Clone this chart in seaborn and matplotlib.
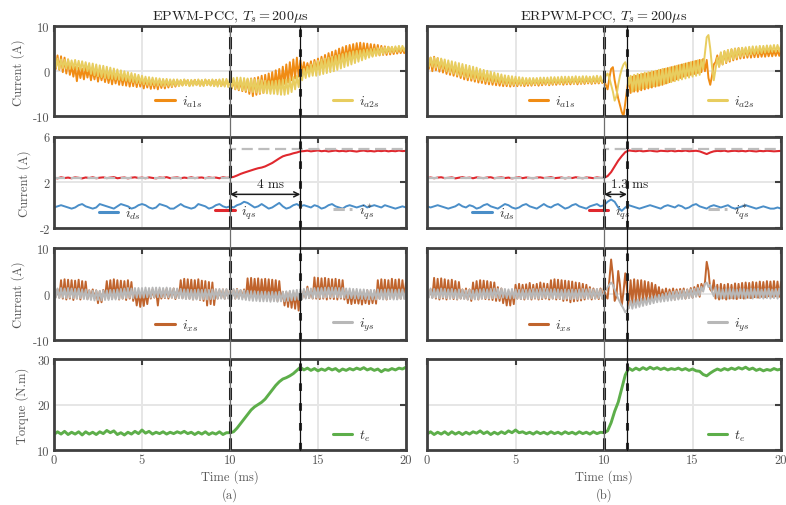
import numpy as np
import matplotlib
matplotlib.use('Agg')
import matplotlib.pyplot as plt
import seaborn as sns
from matplotlib.lines import Line2D
from matplotlib.legend import Legend
from matplotlib.transforms import blended_transform_factory

# ── Sample times ─────────────────────────────────────────────────────────────
T = np.linspace(0, 20, 101)     # 0.2 ms, slow signals
T2 = np.linspace(0, 20, 201)    # 0.1 ms, switching ripple signals

# ── (a) EPWM-PCC ─────────────────────────────────────────────────────────────
ia1s_a = [2.0, 0.5, 3.5, 0.3, 3.3, -0.2, 3.0, -0.5, 2.6, -0.8,
          1.2, -1.2, 1.0, -2.2, 0.8, -1.5, 0.6, -1.8, 0.8, -1.4,
          0.5, -2.0, 0.3, -1.8, 0.4, -2.3, 0.1, -2.0, -0.1, -2.4,
          -0.3, -2.6, -0.4, -2.9, -0.5, -2.7, -0.6, -3.0, -0.7, -3.1,
          -0.8, -3.2, -0.9, -3.4, -1.0, -3.3, -1.1, -3.5, -1.3, -3.4,
          -1.5, -3.8, -1.6, -3.6, -1.7, -3.9, -1.8, -3.8, -1.9, -4.0,
          -2.0, -3.7, -1.9, -3.8, -2.0, -3.6, -2.1, -3.5, -2.0, -3.4,
          -2.0, -3.2, -2.1, -3.1, -1.9, -3.0, -2.0, -3.2, -2.1, -3.1,
          -1.9, -3.0, -2.0, -3.2, -2.1, -3.1, -1.9, -3.0, -2.0, -3.1,
          -2.0, -3.2, -1.9, -3.1, -2.0, -3.3, -2.1, -3.2, -2.0, -3.2,
          -2.2, -3.8, -2.0, -4.0, -2.3, -4.2, -2.1, -4.4, -2.0, -4.6,
          -1.8, -5.0, -1.6, -5.5, -1.5, -5.2, -1.3, -5.0, -1.0, -4.8,
          -0.8, -4.3, -0.5, -4.0, -0.2, -3.8, 0.2, -3.5, 0.5, -3.2,
          1.0, -2.8, 1.5, -2.5, 2.0, -2.0, 2.6, -1.6, 3.0, -1.2,
          2.4, -0.5, 2.0, -0.3, 1.8, 0.0, 2.2, -0.2, 2.5, 0.2,
          2.8, 0.4, 3.2, 0.6, 3.6, 0.9, 4.0, 1.2, 4.3, 1.5,
          4.6, 1.8, 5.0, 2.1, 5.3, 2.4, 5.6, 2.7, 5.8, 2.9,
          6.0, 3.0, 6.2, 3.1, 6.3, 3.2, 6.2, 3.3, 6.1, 3.3,
          6.0, 3.4, 5.9, 3.5, 5.8, 3.5, 5.6, 3.6, 5.5, 3.6,
          5.4, 3.7, 5.3, 3.8, 5.2, 3.9, 5.1, 4.0, 5.0, 4.0,
          4.9]
ia2s_a = [2.0, 0.8, 2.8, 0.5, 2.6, 0.7, 2.5, 0.6, 2.6, 0.5,
          2.4, 0.6, 2.5, 0.4, 2.3, 0.3, 2.2, 0.2, 2.0, 0.0,
          1.8, -0.6, 1.7, -0.9, 1.5, -1.1, 1.3, -1.3, 1.2, -1.5,
          1.0, -1.6, 0.8, -1.7, 0.6, -1.8, 0.4, -1.9, 0.2, -2.0,
          0.0, -2.1, -0.2, -2.3, -0.4, -2.4, -0.6, -2.6, -0.8, -2.7,
          -1.0, -2.9, -1.2, -3.0, -1.3, -3.1, -1.4, -3.1, -1.5, -3.2,
          -1.6, -3.2, -1.7, -3.3, -1.7, -3.2, -1.8, -3.3, -1.8, -3.2,
          -1.8, -3.3, -1.9, -3.2, -1.8, -3.1, -1.9, -3.3, -1.9, -3.2,
          -1.9, -3.1, -1.8, -3.2, -1.9, -3.3, -1.8, -3.1, -1.9, -3.2,
          -1.8, -3.3, -1.9, -3.4, -1.8, -3.3, -1.7, -3.4, -1.7, -3.5,
          -1.6, -3.7, -1.5, -3.9, -1.4, -4.0, -1.4, -4.2, -1.5, -4.3,
          -1.6, -4.4, -1.7, -4.6, -1.8, -4.7, -1.9, -4.8, -2.0, -4.8,
          -2.1, -4.9, -2.2, -5.0, -2.2, -5.0, -2.1, -5.1, -2.0, -5.2,
          -1.9, -5.2, -1.8, -5.0, -1.6, -4.6, -1.3, -4.0, -1.0, -3.5,
          -0.5, -2.0, 0.5, -1.5, 1.0, -1.2, 1.5, -1.0, 2.0, -1.0,
          2.3, -0.8, 2.6, -0.6, 2.8, -0.4, 3.0, -0.2, 3.2, 0.0,
          3.4, 0.3, 3.6, 0.6, 3.8, 0.9, 4.0, 1.2, 4.2, 1.5,
          4.4, 1.8, 4.5, 2.1, 4.6, 2.4, 4.7, 2.7, 4.8, 3.0,
          4.9, 3.2, 5.0, 3.4, 5.1, 3.6, 5.2, 3.8, 5.3, 4.0,
          5.4, 4.1, 5.4, 4.2, 5.5, 4.3, 5.6, 4.4, 5.6, 4.5,
          5.5]
ids_a = [-0.2, -0.1, 0.0, -0.1, -0.2, -0.3, -0.2, 0.0, 0.1, -0.1,
         -0.2, -0.3, -0.2, 0.1, 0.0, -0.1, -0.2, -0.3, -0.1, 0.1,
         0.0, -0.1, -0.3, -0.2, 0.0, 0.1, 0.0, -0.2, -0.3, -0.2,
         0.1, 0.0, -0.1, -0.3, -0.3, -0.1, 0.1, -0.1, -0.2, -0.3,
         -0.2, 0.1, 0.0, -0.1, -0.3, -0.2, 0.0, 0.1, -0.1, -0.2,
         -0.1, -0.2, 0.0, 0.1, 0.3, 0.2, 0.0, -0.2, -0.1, 0.1,
         -0.1, -0.3, -0.2, 0.0, 0.2, -0.1, -0.3, -0.2, 0.0, 0.1,
         -0.1, 0.0, -0.1, -0.2, 0.0, -0.1, -0.3, -0.2, 0.0, 0.1,
         -0.1, -0.2, -0.3, -0.1, 0.0, -0.1, -0.2, -0.1, 0.0, -0.2,
         -0.1, 0.0, -0.1, -0.2, 0.0, -0.1, -0.2, -0.3, -0.2, -0.1,
         -0.2]
iqs_a = [2.40, 2.35, 2.45, 2.38, 2.42, 2.36, 2.44, 2.40, 2.35, 2.43,
         2.38, 2.45, 2.36, 2.41, 2.44, 2.37, 2.42, 2.46, 2.36, 2.40,
         2.43, 2.35, 2.41, 2.45, 2.38, 2.42, 2.36, 2.44, 2.39, 2.35,
         2.43, 2.40, 2.46, 2.37, 2.41, 2.44, 2.36, 2.42, 2.38, 2.45,
         2.37, 2.41, 2.43, 2.36, 2.44, 2.39, 2.42, 2.36, 2.45, 2.40,
         2.42,
         2.48, 2.60, 2.74, 2.85, 2.95, 3.05, 3.15, 3.24, 3.30, 3.40,
         3.55, 3.70, 3.90, 4.10, 4.28, 4.38, 4.45, 4.55, 4.62, 4.72,
         4.74, 4.78, 4.72, 4.76, 4.80, 4.73, 4.77, 4.71, 4.75, 4.79,
         4.73, 4.76, 4.72, 4.78, 4.74, 4.70, 4.76, 4.79, 4.73, 4.75,
         4.71, 4.77, 4.74, 4.78, 4.72, 4.76, 4.73, 4.79, 4.74, 4.76]
ixs_a = [0.8, -0.6, 1.0, -0.8, 3.0, -1.0, 3.2, -1.2, 3.1, -1.0,
         3.0, -1.3, 2.9, -1.0, 3.1, -1.2, 2.8, -0.9, 2.7, -1.1,
         0.8, -0.8, 1.0, -1.0, 0.8, -2.0, 0.6, -1.8, 0.9, -0.8,
         2.8, -1.0, 3.0, -1.1, 3.2, -0.9, 3.0, -1.2, 2.9, -1.0,
         2.8, -1.3, 3.0, -1.0, 2.6, -1.5, 0.5, -2.5, 0.4, -2.8,
         0.3, -2.6, 0.5, -2.2, 0.8, -1.0, 1.0, -0.8, 0.8, -2.5,
         1.0, -1.0, 0.9, -0.9, 1.1, -1.0, 0.8, -0.8, 1.2, -1.1,
         1.0, -0.8, 3.0, -0.9, 3.3, -1.0, 3.2, -1.0, 3.1, -1.2,
         3.0, -1.0, 3.2, -1.3, 2.9, -1.5, 2.8, -2.5, 2.6, -2.2,
         2.5, -2.4, 1.0, -1.0, 0.8, -0.8, 1.0, -1.0, 0.9, -0.9,
         1.0, -0.8, 0.9, -1.0, 1.1, -0.9, 0.8, -0.8, 1.0, -1.0,
         3.4, -0.8, 3.5, -1.0, 3.3, -0.9, 3.4, -1.2, 3.2, -1.0,
         3.3, -1.1, 3.2, -1.3, 3.1, -1.2, 3.0, -1.5, 2.8, -1.4,
         0.5, -2.5, 0.4, -2.8, 0.5, -3.0, 0.3, -3.2, 0.4, -3.6,
         0.3, -1.0, 0.8, -0.8, 1.6, -0.9, 0.8, -1.0, 3.6, -1.0,
         3.5, -1.1, 3.4, -1.0, 3.5, -1.2, 3.3, -1.0, 3.2, -1.1,
         3.3, -1.2, 3.1, -1.0, 3.0, -1.2, 0.8, -2.0, 0.6, -2.2,
         0.7, -2.0, 0.5, -2.1, 0.6, -2.3, 0.5, -2.0, 0.8, -2.2,
         0.6, -2.0, 0.7, -2.1, 3.0, -1.0, 3.2, -1.1, 3.1, -1.2,
         3.0, -1.0, 3.3, -0.9, 3.1, -1.1, 3.2, -1.0, 3.0, -0.8,
         2.5]
iys_a = [1.3, -0.8, 1.2, -0.9, 1.3, -0.8, 1.2, -0.9, 1.3, -0.8,
         1.2, -0.9, 1.1, -1.0, 1.2, -0.9, 1.0, -1.1, 1.0, -1.2,
         0.8, -1.3, 0.7, -1.4, 0.8, -1.3, 0.7, -1.4, 0.8, -1.3,
         0.8, -1.3, 0.9, -1.2, 0.9, -1.2, 1.0, -1.1, 1.1, -1.0,
         1.2, -0.9, 1.3, -0.8, 1.2, -0.9, 1.3, -0.8, 1.3, -0.8,
         1.3, -0.8, 1.4, -0.7, 1.3, -0.8, 1.4, -0.7, 1.4, -0.7,
         1.4, -0.7, 1.3, -0.8, 1.4, -0.7, 1.3, -0.8, 1.2, -0.9,
         1.2, -0.9, 1.1, -1.0, 1.0, -1.1, 1.0, -1.1, 0.9, -1.2,
         0.9, -1.2, 1.0, -1.2, 0.9, -1.1, 1.0, -1.2, 0.9, -1.1,
         1.0, -1.1, 1.0, -1.0, 1.1, -1.0, 1.0, -1.1, 1.1, -1.0,
         1.0, -1.1, 1.1, -1.0, 1.0, -1.1, 0.9, -1.2, 0.8, -1.3,
         0.7, -1.4, 0.6, -1.5, 0.6, -1.5, 0.5, -1.6, 0.5, -1.6,
         0.5, -1.6, 0.4, -1.7, 0.5, -1.6, 0.4, -1.7, 0.5, -1.6,
         0.5, -1.6, 0.6, -1.5, 0.7, -1.4, 0.8, -1.3, 0.9, -1.2,
         1.0, -1.1, 1.1, -1.0, 1.2, -0.9, 1.2, -0.9, 1.3, -0.8,
         1.3, -0.8, 1.3, -0.8, 1.4, -0.7, 1.4, -0.7, 1.4, -0.7,
         1.4, -0.7, 1.3, -0.8, 1.3, -0.8, 1.2, -0.9, 1.2, -0.9,
         1.1, -1.0, 1.1, -1.0, 1.0, -1.1, 1.0, -1.1, 0.9, -1.2,
         0.9, -1.2, 0.9, -1.2, 1.0, -1.1, 0.9, -1.2, 1.0, -1.1,
         1.0, -1.1, 1.0, -1.2, 0.9, -1.2, 1.0, -1.1, 1.0, -1.1,
         0.9]
te_a = [13.4, 14.0, 13.5, 14.1, 13.4, 13.9, 13.5, 14.0, 13.3, 14.0,
        13.5, 13.9, 13.4, 14.0, 13.6, 14.3, 13.8, 14.2, 13.4, 13.8,
        13.3, 13.9, 13.5, 14.1, 13.6, 14.4, 13.7, 14.1, 13.5, 13.9,
        13.6, 14.0, 13.5, 13.9, 13.6, 14.0, 13.7, 14.1, 13.6, 13.9,
        13.4, 13.9, 13.5, 14.0, 13.4, 13.8, 13.5, 14.0, 13.4, 13.8,
        13.8,
        14.0, 14.8, 15.8, 16.8, 17.8, 18.8, 19.5, 20.0, 20.5, 21.2,
        22.2, 23.2, 24.2, 25.0, 25.6, 25.9, 26.3, 26.8, 27.5, 28.2,
        27.6, 28.0, 27.5, 27.9, 27.4, 27.8, 27.5, 28.0, 27.6, 27.9,
        27.3, 27.8, 27.5, 27.9, 27.6, 28.0, 27.7, 28.1, 27.6, 27.9,
        27.5, 27.8, 27.2, 27.7, 27.5, 27.9, 27.6, 28.0, 27.8, 28.2]

# ── (b) ERPWM-PCC ────────────────────────────────────────────────────────────
ia1s_b = [2.0, 0.5, 3.0, 0.0, 3.2, 0.2, 2.9, -0.1, 2.6, -0.3,
          2.0, -0.6, 1.8, -0.8, 1.5, -1.0, 1.3, -1.2, 1.0, -1.5,
          0.8, -1.8, 0.6, -2.0, 0.4, -2.1, 0.2, -2.3, 0.0, -2.5,
          -0.2, -2.6, -0.4, -2.8, -0.6, -2.9, -0.8, -3.0, -1.0, -3.1,
          -1.2, -3.2, -1.3, -3.3, -1.4, -3.3, -1.5, -3.4, -1.6, -3.3,
          -1.7, -3.3, -1.8, -3.2, -1.8, -3.3, -1.9, -3.2, -1.9, -3.2,
          -1.9, -3.1, -1.8, -3.2, -1.9, -3.1, -1.8, -3.0, -1.8, -3.1,
          -1.8, -3.0, -1.7, -3.0, -1.8, -2.9, -1.7, -3.0, -1.7, -2.9,
          -1.6, -2.9, -1.6, -2.8, -1.5, -2.9, -1.6, -2.8, -1.5, -2.8,
          -1.5, -2.7, -1.4, -2.8, -1.5, -2.7, -1.4, -2.7, -1.5, -2.6,
          -2.0, -3.0, -4.0, -1.5, 0.5, 0.9, -2.0, -4.0, -6.0, -7.5,
          -9.0, -10.0, -7.0, -4.0, -1.5, -4.8, -1.2, -4.5, -1.0, -4.5,
          -0.8, -4.2, -0.6, -4.0, -0.5, -3.8, -0.3, -3.6, -0.1, -3.4,
          0.1, -3.2, 0.3, -3.0, 0.5, -2.7, 0.7, -2.4, 0.9, -2.1,
          1.1, -1.8, 1.3, -1.5, 1.5, -1.2, 1.7, -1.0, 1.9, -0.8,
          2.1, -0.6, 2.3, -0.4, 2.5, -0.2, 2.7, 0.0, 2.5, -1.5,
          -3.0, -1.0, 1.5, 2.0, 3.5, 1.0, 4.0, 1.5, 4.3, 1.8,
          4.6, 2.1, 4.8, 2.4, 5.0, 2.6, 5.1, 2.8, 5.1, 2.9,
          5.0, 3.0, 5.0, 3.0, 4.9, 3.1, 4.9, 3.1, 4.8, 3.2,
          4.8, 3.2, 4.7, 3.3, 4.7, 3.3, 4.6, 3.4, 4.6, 3.4,
          4.5]
ia2s_b = [2.0, 1.0, 3.0, 1.0, 3.0, 0.8, 2.9, 0.6, 2.8, 0.5,
          2.6, 0.0, 2.4, -0.3, 2.2, -0.5, 2.0, -0.8, 1.8, -1.0,
          1.6, -1.2, 1.4, -1.4, 1.2, -1.6, 1.0, -1.8, 0.8, -1.9,
          0.5, -2.0, 0.3, -2.2, 0.1, -2.3, -0.1, -2.4, -0.3, -2.5,
          -0.5, -2.6, -0.7, -2.8, -0.9, -2.9, -1.0, -3.0, -1.1, -3.0,
          -1.2, -3.0, -1.3, -3.0, -1.4, -3.0, -1.5, -2.9, -1.5, -3.0,
          -1.5, -2.9, -1.5, -2.9, -1.4, -2.8, -1.4, -2.8, -1.4, -2.9,
          -1.3, -2.8, -1.3, -2.7, -1.3, -2.8, -1.2, -2.7, -1.2, -2.7,
          -1.2, -2.6, -1.2, -2.7, -1.1, -2.6, -1.2, -2.6, -1.1, -2.6,
          -1.1, -2.5, -1.2, -2.6, -1.1, -2.5, -1.0, -2.5, -1.1, -2.4,
          -2.0, -1.0, -0.5, -1.5, -3.0, -4.5, -6.5, -5.5, -3.0, -1.0,
          0.5, 1.5, 2.0, 0.5, -3.0, -1.0, -4.5, -0.8, -4.2, -0.6,
          -4.0, -0.5, -3.8, -0.3, -3.6, -0.2, -3.5, 0.0, -3.3, 0.1,
          -3.2, 0.3, -3.0, 0.5, -2.8, 0.6, -2.6, 0.8, -2.4, 1.0,
          -2.2, 1.2, -2.0, 1.4, -1.8, 1.6, -1.6, 1.8, -1.4, 2.0,
          -1.2, 2.2, -1.0, 2.4, -0.8, 2.5, 0.5, 4.0, 7.5, 8.0,
          5.0, 1.0, -2.0, 0.5, 3.0, 1.0, 4.2, 1.5, 4.5, 2.0,
          4.7, 2.4, 4.9, 2.7, 5.0, 3.0, 5.1, 3.2, 5.2, 3.4,
          5.3, 3.5, 5.4, 3.7, 5.5, 3.8, 5.5, 3.9, 5.6, 4.0,
          5.6, 4.1, 5.7, 4.2, 5.7, 4.3, 5.8, 4.3, 5.8, 4.4,
          5.7]
ids_b = [-0.1, -0.2, -0.1, 0.0, -0.1, -0.2, -0.3, -0.2, -0.1, 0.1,
         -0.1, -0.2, 0.0, -0.1, -0.3, -0.2, 0.0, 0.1, -0.1, -0.2,
         -0.3, -0.1, 0.1, 0.0, -0.2, -0.3, -0.2, 0.0, 0.1, -0.1,
         -0.2, -0.3, -0.1, 0.1, -0.1, -0.2, 0.0, 0.1, -0.1, -0.3,
         -0.2, 0.0, 0.1, -0.1, -0.2, -0.3, -0.1, 0.0, 0.1, -0.1,
         0.0, 0.3, 0.5, 0.3, -0.2, -0.5, -0.2, 0.0,
         -0.1, -0.2, -0.3, -0.2, -0.1, 0.0, -0.1, -0.2, -0.3, -0.1,
         0.0, -0.1, -0.2, 0.0, -0.1, -0.3, -0.2, 0.0, 0.1, -0.1,
         -0.2, -0.3, -0.1, 0.0, -0.1, -0.2, -0.1, 0.0, -0.2, -0.3,
         -0.2, -0.1, 0.0, -0.1, -0.2, -0.3, -0.2, -0.1, -0.2, -0.3,
         -0.3, -0.2, -0.3]
iqs_b = [2.38, 2.43, 2.36, 2.42, 2.45, 2.37, 2.40, 2.44, 2.35, 2.41,
         2.46, 2.38, 2.42, 2.36, 2.44, 2.40, 2.37, 2.43, 2.45, 2.36,
         2.41, 2.44, 2.38, 2.42, 2.35, 2.40, 2.45, 2.37, 2.43, 2.39,
         2.36, 2.42, 2.44, 2.38, 2.41, 2.46, 2.37, 2.40, 2.43, 2.35,
         2.42, 2.38, 2.45, 2.40, 2.36, 2.43, 2.41, 2.37, 2.44, 2.39,
         2.40,
         2.55, 2.90, 3.40, 3.90, 4.30, 4.65, 4.80,
         4.76, 4.73, 4.78, 4.72, 4.75, 4.79, 4.74, 4.71, 4.77, 4.75,
         4.73, 4.78, 4.72, 4.76, 4.74, 4.79, 4.73, 4.75, 4.77, 4.72,
         4.60, 4.48, 4.62,
         4.72, 4.76, 4.74, 4.78, 4.71, 4.75, 4.77, 4.73, 4.76, 4.72,
         4.78, 4.74, 4.71, 4.76, 4.73, 4.77, 4.75, 4.72, 4.74, 4.76]
ixs_b = [0.8, -0.6, 1.0, -0.8, 3.5, -1.0, 3.3, -1.2, 3.4, -1.0,
         3.2, -1.2, 3.0, -1.0, 3.1, -1.1, 2.8, -1.2, 2.6, -1.0,
         1.0, -1.0, 1.2, -1.2, 1.0, -1.5, 2.5, -1.0, 2.8, -1.2,
         3.0, -1.0, 2.9, -1.1, 2.8, -1.2, 2.6, -1.3, 2.5, -1.5,
         1.5, -1.5, 1.2, -2.0, 0.5, -2.5, 0.6, -2.5, 0.8, -2.2,
         2.0, -1.0, 2.2, -1.1, 2.0, -1.2, 2.1, -1.0, 2.4, -1.2,
         2.0, -1.0, 2.2, -1.2, 2.5, -1.1, 2.3, -1.0, 2.2, -1.2,
         3.0, -1.0, 3.2, -1.2, 3.1, -1.1, 3.0, -1.5, 2.9, -1.4,
         2.8, -1.8, 2.7, -1.6, 2.5, -1.5, 2.4, -1.4, 2.2, -1.2,
         2.0, -1.0, 1.5, -1.2, 1.2, -1.0, 1.0, -1.1, 1.2, -1.0,
         1.5, -0.5, -1.0, 3.0, 7.5, 4.0, -1.5, -0.5, 5.0, 2.0,
         -2.5, 0.5, 4.5, 1.0, -3.0, 3.0, -2.0, 3.2, -1.8, 3.0,
         -1.5, 3.0, -1.5, 2.8, -1.4, 2.6, -1.2, 2.4, -1.0, 2.0,
         -1.0, 1.5, -1.2, 1.0, -1.0, 1.2, -1.1, 1.0, -1.0, 1.2,
         -1.2, 1.0, -1.0, 1.1, -0.9, 1.2, -1.0, 1.0, -0.8, 1.3,
         -0.8, 1.5, -0.5, 2.0, -0.6, 2.2, 1.0, 2.5, 7.0, 5.0,
         1.0, 0.5, 3.0, -1.0, 2.0, -1.2, 2.2, -1.0, 2.0, -1.2,
         2.2, -1.0, 2.0, -1.0, 2.3, -1.1, 2.2, -0.9, 2.4, -1.0,
         2.5, -0.8, 2.4, -0.9, 2.6, -0.7, 2.5, -0.8, 2.7, -0.6,
         2.6, -0.7, 2.8, -0.5, 2.7, -0.6, 2.8, -0.5, 2.7, -0.6,
         2.6]
iys_b = [1.0, -0.8, 1.2, -0.9, 1.1, -0.8, 1.0, -0.9, 1.2, -0.8,
         1.1, -0.9, 1.0, -1.0, 1.1, -0.9, 0.9, -1.1, 1.0, -1.0,
         0.9, -1.1, 0.8, -1.2, 0.9, -1.1, 0.8, -1.2, 0.9, -1.1,
         1.0, -1.0, 1.1, -0.9, 1.0, -1.0, 1.1, -0.9, 1.2, -0.8,
         1.1, -0.9, 1.2, -0.8, 1.1, -0.9, 1.0, -1.0, 1.1, -0.9,
         1.0, -1.0, 0.9, -1.1, 1.0, -1.0, 0.9, -1.1, 1.0, -1.0,
         1.1, -0.9, 1.0, -1.0, 1.1, -0.9, 1.2, -0.8, 1.1, -0.9,
         1.0, -1.0, 1.1, -0.9, 1.0, -1.0, 0.9, -1.1, 1.0, -1.0,
         0.9, -1.1, 1.0, -1.0, 0.9, -1.1, 1.0, -1.0, 1.1, -0.9,
         1.0, -1.0, 1.1, -0.9, 1.0, -1.0, 1.1, -0.9, 1.0, -1.0,
         0.5, 0.8, 1.5, 2.0, 2.5, 2.0, 1.0, 0.0, -1.0, -1.8,
         -2.5, -3.2, -4.0, -3.5, -3.0, -1.5, -3.2, -1.3, -3.0, -1.2,
         -2.8, -1.0, -2.6, -0.9, -2.4, -0.8, -2.2, -0.6, -2.0, -0.4,
         -1.8, -0.2, -1.7, 0.0, -1.6, 0.2, -1.5, 0.4, -1.4, 0.5,
         -1.3, 0.6, -1.2, 0.7, -1.1, 0.8, -1.0, 0.9, -0.9, 1.0,
         -0.8, 1.1, -0.6, 1.3, -0.3, 1.6, 0.5, 2.2, 2.5, 1.5,
         2.0, 0.5, -0.5, 1.5, -0.8, 1.2, -1.0, 1.0, -0.9, 1.1,
         -1.0, 1.2, -0.9, 1.1, -1.0, 1.0, -0.8, 1.2, -0.9, 1.1,
         -1.0, 1.0, -0.9, 1.2, -1.0, 1.1, -0.8, 1.2, -0.9, 1.0,
         -1.0, 1.1, -0.9, 1.2, -1.0, 1.0, -0.9, 1.1, -1.0, 1.2,
         -0.8]
te_b = [13.5, 14.0, 13.4, 13.9, 13.5, 14.0, 13.4, 14.0, 13.5, 13.9,
        13.4, 13.9, 13.5, 14.0, 13.7, 14.2, 13.6, 14.0, 13.4, 13.9,
        13.5, 14.0, 13.6, 14.2, 13.8, 14.4, 13.8, 14.0, 13.6, 13.9,
        13.5, 14.0, 13.6, 13.9, 13.5, 14.0, 13.6, 13.9, 13.5, 14.0,
        13.6, 13.9, 13.5, 14.0, 13.6, 13.9, 13.5, 14.0, 13.6, 13.9,
        13.8,
        14.2, 16.0, 18.5, 20.5, 23.5, 26.5, 28.0,
        27.5, 28.0, 27.6, 28.1, 27.7, 28.2, 27.8, 28.1, 27.7, 28.0,
        27.6, 27.9, 27.7, 28.0, 27.6, 27.9, 27.5, 27.8, 27.4, 27.3,
        26.6, 26.3, 26.9, 27.4, 27.8, 27.5, 27.9, 27.6, 28.0, 27.7,
        28.1, 27.8, 28.2, 27.7, 28.0, 27.5, 27.8, 27.4, 27.7, 27.5,
        27.9, 27.6, 27.8]

# reference i_qs* (step at 10 ms)
REF_T = [0, 10, 10, 20]
REF_V = [2.35, 2.35, 4.9, 4.9]

STEP_T = 10.0
SETTLE = [14.0, 11.3]
SETTLE_TXT = ['4 ms', '1.3 ms']
TITLES = [r'EPWM-PCC, $T_s = 200\mu$s', r'ERPWM-PCC, $T_s = 200\mu$s']
SUBLBL = ['(a)', '(b)']

YLIMS = [(-10, 10), (-2, 6), (-10, 10), (10, 30)]
YTICKS = [[-10, 0, 10], [-2, 2, 6], [-10, 0, 10], [10, 20, 30]]
YLABELS = ['Current (A)', 'Current (A)', 'Current (A)', 'Torque (N.m)']
XTICKS = [0, 5, 10, 15, 20]

C_A1 = '#F08C14'
C_A2 = '#E8CD5F'
C_DS = '#4A8EC8'
C_QS = '#E0282E'
C_REF = '#BDBDBD'
C_XS = '#C0642D'
C_YS = '#B8B8B8'
C_TE = '#5DAE4A'
FRAME = '#404040'
TXT = '#555555'

sns.set_theme(style='whitegrid')
plt.rcParams.update({
    'font.family': 'serif',
    'font.serif': ['cmr10', 'DejaVu Serif'],
    'mathtext.fontset': 'cm',
    'axes.formatter.use_mathtext': True,
    'axes.unicode_minus': False,
})

COL_X = [(0.0687, 0.4478), (0.5433, 0.4504)]
ROW_Y = [(0.7678, 0.1789), (0.5474, 0.1804), (0.3261, 0.1818), (0.1087, 0.1798)]


def draw(ax, x, y, color, lw, ls='-'):
    sns.lineplot(x=x, y=y, ax=ax, color=color, lw=lw, linestyle=ls,
                 estimator=None, legend=False)
    return ax.lines[-1]


def key(ax, line, label, xf):
    proxy = Line2D([], [], color=line.get_color(), lw=2.2,
                   linestyle=line.get_linestyle())
    leg = Legend(ax, [proxy], [label], loc='lower left', bbox_to_anchor=(xf, -0.03),
                 frameon=False, handlelength=1.4, handletextpad=0.5,
                 borderpad=0.2, fontsize=10, labelcolor='#333333')
    ax.add_artist(leg)


fig = plt.figure(figsize=(7.86, 5.06), dpi=100)
cols = [
    dict(a1=ia1s_a, a2=ia2s_a, ds=ids_a, qs=iqs_a, xs=ixs_a, ys=iys_a, te=te_a),
    dict(a1=ia1s_b, a2=ia2s_b, ds=ids_b, qs=iqs_b, xs=ixs_b, ys=iys_b, te=te_b),
]

for c, d in enumerate(cols):
    x0, w = COL_X[c]
    axes = []
    for r in range(4):
        y0, h = ROW_Y[r]
        ax = fig.add_axes([x0, y0, w, h])
        axes.append(ax)

        if r == 0:
            l1 = draw(ax, T2, d['a1'], C_A1, 1.4)
            l2 = draw(ax, T2, d['a2'], C_A2, 1.4)
            key(ax, l1, r'$i_{a1s}$', 0.26)
            key(ax, l2, r'$i_{a2s}$', 0.765)
            ax.set_title(TITLES[c], fontsize=10.2, pad=5, color='#222222')
        elif r == 1:
            l1 = draw(ax, T, d['ds'], C_DS, 1.4)
            l2 = draw(ax, T, d['qs'], C_QS, 1.5)
            l3 = draw(ax, REF_T, REF_V, C_REF, 1.6, ls=(0, (5, 2.5)))
            key(ax, l1, r'$i_{ds}$', 0.10)
            key(ax, l2, r'$i_{qs}$', 0.43)
            key(ax, l3, r'$i^*_{qs}$', 0.765)
            ax.annotate('', xy=(STEP_T, 0.95), xytext=(SETTLE[c], 0.95),
                        arrowprops=dict(arrowstyle='<->', color='k', lw=1.1,
                                        shrinkA=0, shrinkB=0, mutation_scale=9))
            tx = (STEP_T + SETTLE[c]) / 2 + (0.3 if c == 0 else 0.8)
            ax.text(tx, 1.9, SETTLE_TXT[c], ha='center', va='center',
                    fontsize=9.5, color='#222222', zorder=6)
        elif r == 2:
            l1 = draw(ax, T2, d['xs'], C_XS, 1.4)
            l2 = draw(ax, T2, d['ys'], C_YS, 1.4)
            key(ax, l1, r'$i_{xs}$', 0.26)
            key(ax, l2, r'$i_{ys}$', 0.765)
        else:
            l1 = draw(ax, T, d['te'], C_TE, 2.1)
            key(ax, l1, r'$t_e$', 0.765)
            ax.set_xlabel('Time (ms)\n' + SUBLBL[c], fontsize=9, color=TXT,
                          linespacing=1.4, labelpad=2)

        ax.set_xlim(0, 20)
        ax.set_ylim(*YLIMS[r])
        ax.set_xticks(XTICKS)
        ax.set_yticks(YTICKS[r])
        ax.set_xticklabels([str(v) for v in XTICKS] if r == 3 else [])
        if c == 0:
            ax.set_yticklabels([str(v) for v in YTICKS[r]])
            ax.set_ylabel(YLABELS[r], fontsize=9, color=TXT, labelpad=6)
        else:
            ax.set_yticklabels([])
            ax.set_ylabel('')
        ax.grid(True, color='#E6E6E6', lw=1.4)
        ax.set_axisbelow(True)
        ax.set_facecolor('white')
        ax.tick_params(axis='both', direction='in', length=4, width=1.5,
                       color=FRAME, top=True, right=True, labelsize=9,
                       labelcolor=TXT, pad=3)
        for s in ax.spines.values():
            s.set_color(FRAME)
            s.set_linewidth(2)
            s.set_visible(True)

        # thick dashed markers at step and settling instants
        ax.axvline(STEP_T, color='k', lw=2.2, ls=(0, (4, 1.5)), zorder=5)
        ax.axvline(SETTLE[c], color='#333333', lw=2.2, ls=(0, (2.5, 4)), zorder=5)

    # thin lines running through all four rows
    y_bot = ROW_Y[3][0]
    y_top = ROW_Y[0][0] + ROW_Y[0][1]
    tr = blended_transform_factory(axes[0].transData, fig.transFigure)
    fig.add_artist(Line2D([STEP_T, STEP_T], [y_bot, y_top], transform=tr,
                          color='#6E6E6E', lw=0.9, zorder=6))
    fig.add_artist(Line2D([SETTLE[c], SETTLE[c]], [y_bot, y_top], transform=tr,
                          color='#111111', lw=0.9, zorder=6))

fig.savefig('out.png', dpi=100, facecolor='white')
